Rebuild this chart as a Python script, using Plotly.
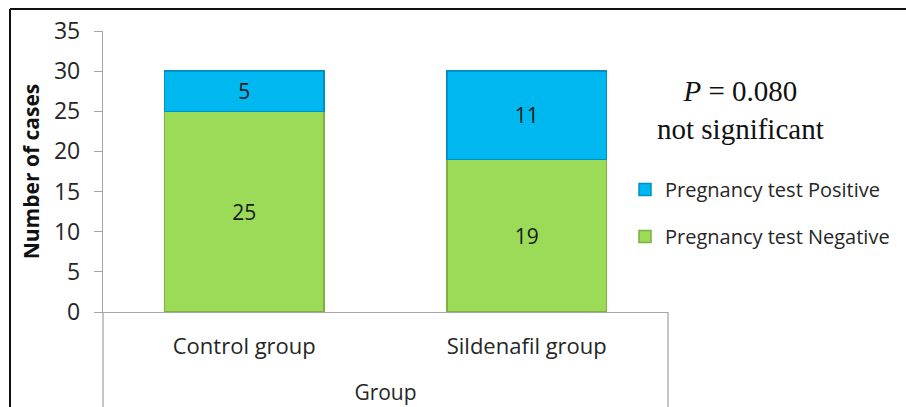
import plotly.graph_objects as go

categories = ["Control group", "Sildenafil group"]
negative = [25, 19]
positive = [5, 11]
y_ticks = [0, 5, 10, 15, 20, 25, 30, 35]

W, H = 906, 407
L, R, T, B = 103, 668, 31, 312  # plot area pixels

def px(x):
    return (x - L) / (R - L)

def py(y):
    return (B - y) / (B - T)

FONT = "Open Sans"

fig = go.Figure()
fig.add_trace(go.Bar(
    x=categories, y=negative, name="Pregnancy test Negative", legendgroup="neg", legendrank=2,
    marker=dict(color="#9BDB58", line=dict(color="#7CB040", width=1.5)),
    texttemplate="%{y}", textposition="inside", insidetextanchor="middle",
    textfont=dict(family=FONT, size=21, color="#1a1a1a"),
))
fig.add_trace(go.Bar(
    x=categories, y=positive, name="Pregnancy test Positive", legendgroup="pos", legendrank=1,
    marker=dict(color="#00B8F0", line=dict(color="#0090C4", width=1.5)),
    texttemplate="%{y}", textposition="inside", insidetextanchor="middle",
    textfont=dict(family=FONT, size=21, color="#1a1a1a"),
))

line_gray = dict(color="#A6A6A6", width=1.3)
shapes = [
    dict(type="line", xref="paper", yref="paper", x0=0, x1=0, y0=py(B), y1=py(H + 2), line=line_gray),
    dict(type="line", xref="paper", yref="paper", x0=px(R), x1=px(R), y0=py(B), y1=py(H + 2), line=line_gray),
    dict(type="line", xref="paper", yref="paper", x0=px(10), x1=px(W + 2), y0=py(9), y1=py(9), line=dict(color="#111111", width=2)),
    dict(type="line", xref="paper", yref="paper", x0=px(10), x1=px(10), y0=py(9), y1=py(H + 2), line=dict(color="#111111", width=2)),
]

fig.update_layout(
    width=W, height=H,
    margin=dict(l=L, r=W - R, t=T, b=H - B, pad=0, autoexpand=False),
    paper_bgcolor="white", plot_bgcolor="white",
    barmode="stack", bargap=0.435,
    font=dict(family=FONT, color="#262626"),
    shapes=shapes,
    showlegend=True,
    legend=dict(
        x=px(625), y=py(170), xanchor="left", yanchor="top",
        traceorder="grouped", tracegroupgap=18,
        font=dict(family=FONT, size=20, color="#262626"),
        bgcolor="rgba(0,0,0,0)",
    ),
    annotations=[dict(
        xref="paper", yref="paper", x=px(740), y=py(110),
        text="<i>P</i> = 0.080<br>not significant", showarrow=False,
        font=dict(family="Liberation Serif", size=29, color="#111111"),
        align="center", xanchor="center", yanchor="middle",
    )],
)
fig.update_xaxes(
    automargin=False,
    showline=True, linecolor="#A6A6A6", linewidth=1.3,
    ticks="", showgrid=False, zeroline=False,
    tickfont=dict(family=FONT, size=22, color="#262626"),
    ticklabelstandoff=14,
    title=dict(text="Group", font=dict(family=FONT, size=21, color="#262626"), standoff=26),
)
fig.update_yaxes(
    automargin=False,
    range=[0, 35], tickvals=y_ticks, showline=True, linecolor="#A6A6A6", linewidth=1.3,
    ticks="outside", ticklen=8, tickcolor="#A6A6A6", showgrid=False, zeroline=False,
    tickfont=dict(family=FONT, size=23, color="#262626"),
    ticklabelstandoff=9,
    title=dict(text="<b>Number of cases</b>", font=dict(family=FONT, size=21, color="#111111"), standoff=8),
)

fig.write_html("out.html")
